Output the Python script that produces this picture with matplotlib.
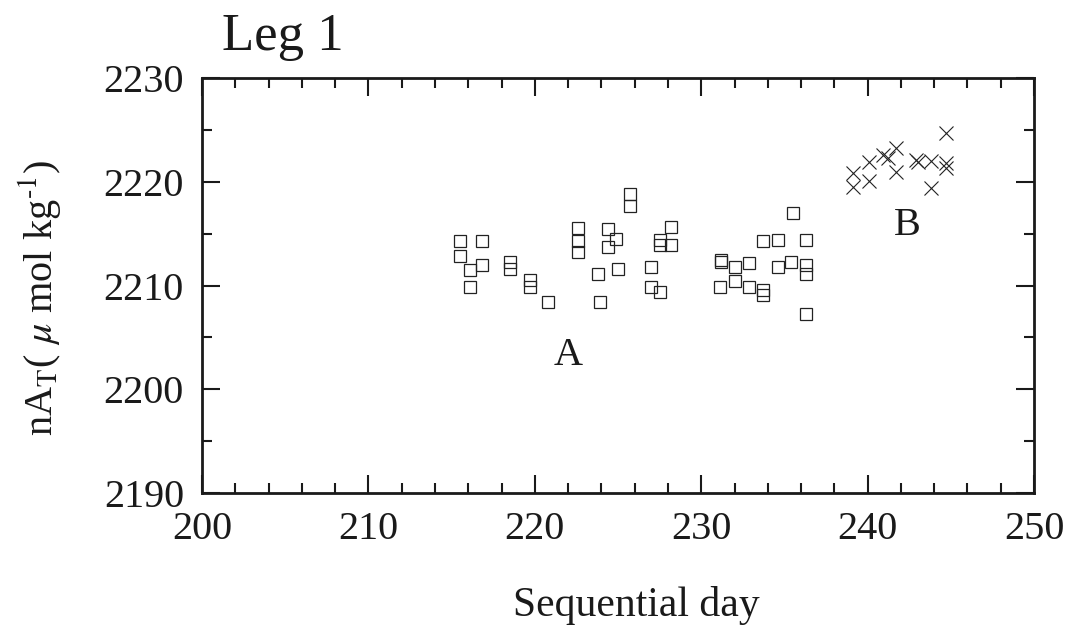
#!/usr/bin/env python3
"""
Leg 1: normalised total alkalinity vs sequential day
"""

import matplotlib
matplotlib.use("Agg")
import matplotlib.pyplot as plt
from matplotlib.ticker import MultipleLocator

# group A (squares)
day_a = [215.5, 215.5, 216.1, 216.1, 216.8, 216.8, 218.5, 218.5, 219.7, 219.7,
         220.8, 222.6, 222.6, 222.6, 223.8, 223.9, 224.4, 224.4, 224.9, 225.0,
         225.7, 225.7, 227.0, 227.0, 227.5, 227.5, 227.5, 228.2, 228.2,
         231.2, 231.2, 231.1, 232.0, 232.0, 232.9, 232.9, 233.7, 233.7, 233.7,
         234.6, 234.6, 235.5, 235.4, 236.3, 236.3, 236.3, 236.3]
nat_a = [2214.3, 2212.8, 2211.5, 2209.9, 2214.3, 2212.0, 2212.3, 2211.6, 2210.5, 2209.9,
         2208.4, 2215.5, 2214.3, 2213.2, 2211.1, 2208.4, 2215.4, 2213.7, 2214.5, 2211.6,
         2218.8, 2217.7, 2211.8, 2209.9, 2209.4, 2214.4, 2213.9, 2215.6, 2213.9,
         2212.5, 2212.3, 2209.9, 2211.8, 2210.4, 2212.2, 2209.9, 2214.3, 2209.6, 2209.1,
         2214.4, 2211.8, 2217.0, 2212.3, 2214.4, 2212.0, 2211.1, 2207.3]

# group B (crosses)
day_b = [239.1, 239.1, 240.1, 240.1, 240.9, 241.2, 241.7, 241.7, 242.9, 243.0,
         243.8, 243.8, 244.7, 244.7, 244.7]
nat_b = [2220.8, 2219.5, 2221.9, 2220.1, 2222.6, 2222.3, 2223.3, 2220.9, 2222.1, 2221.9,
         2222.0, 2219.4, 2224.7, 2221.8, 2221.3]

plt.rcParams['font.family'] = ['Liberation Serif', 'DejaVu Serif']
plt.rcParams['mathtext.fontset'] = 'stix'

fig = plt.figure(figsize=(10.71, 6.29), dpi=100)
ax = fig.add_axes([0.1886, 0.2162, 0.7769, 0.6598])

ax.plot(day_a, nat_a, linestyle='none', marker='s', markersize=8.5,
        markerfacecolor='none', markeredgecolor='#222222', markeredgewidth=0.9)
ax.plot(day_b, nat_b, linestyle='none', marker='x', markersize=9.5,
        color='#222222', markeredgewidth=0.8)

ax.set_xlim(200, 250)
ax.set_ylim(2190, 2230)
ax.xaxis.set_major_locator(MultipleLocator(10))
ax.xaxis.set_minor_locator(MultipleLocator(2))
ax.yaxis.set_major_locator(MultipleLocator(10))
ax.yaxis.set_minor_locator(MultipleLocator(5))
ax.tick_params(which='both', direction='in', top=True, right=True,
               width=1.5, labelsize=29, pad=13, colors='#1a1a1a')
ax.tick_params(which='major', length=13)
ax.tick_params(which='minor', length=7.5)
for s in ax.spines.values():
    s.set_linewidth(2.0)
    s.set_color('#1a1a1a')

ax.text(222.0, 2203.3, 'A', fontsize=29, ha='center', va='center', color='#1a1a1a')
ax.text(242.4, 2215.8, 'B', fontsize=29, ha='center', va='center', color='#1a1a1a')

ax.set_xlabel('Sequential day', fontsize=30, color='#1a1a1a')
ax.xaxis.set_label_coords(0.522, -0.225)
ax.set_ylabel(r'nA$_\mathrm{T}$( $\mu$ mol kg$^{\text{-1}}$)', fontsize=29, color='#1a1a1a')
ax.yaxis.set_label_coords(-0.167, 0.47)

fig.text(222 / 1071, 1 - 37 / 629, 'Leg 1', fontsize=38, ha='left', va='center',
         color='#1a1a1a')

plt.savefig('out.png', dpi=100)
